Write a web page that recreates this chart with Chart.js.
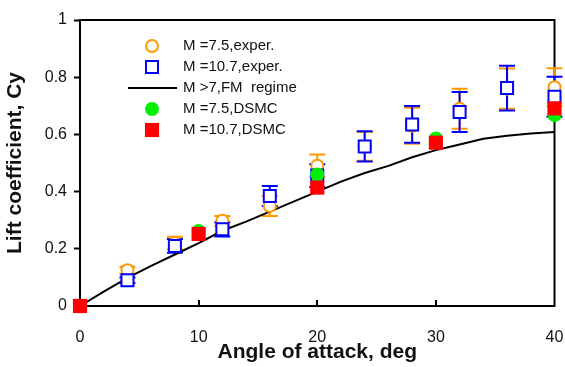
<!DOCTYPE html>
<html>
<head>
<meta charset="utf-8">
<script src="https://cdn.jsdelivr.net/npm/chart.js@4"></script>
<style>
  html, body { margin: 0; padding: 0; background: #fff; }
  #wrap { width: 565px; height: 367px; }
</style>
</head>
<body>
<div id="wrap"><canvas id="chartCanvas" width="565" height="367"></canvas></div>
<script>
// experiment points (same angles for both Mach numbers)
const angles = [0, 4, 8, 12, 16, 20, 24, 28, 32, 36, 40];
const cyExp75 = [0, 0.125, 0.22, 0.298, 0.35, 0.49, 0.558, 0.63, 0.69, 0.76, 0.765];
const errExp75 = [0, 0.012, 0.022, 0.017, 0.035, 0.04, 0.05, 0.063, 0.07, 0.07, 0.066];
const cyExp107 = [0, 0.09, 0.21, 0.268, 0.385, 0.456, 0.558, 0.635, 0.678, 0.762, 0.732];
const errExp107 = [0, 0.01, 0.024, 0.025, 0.035, 0.04, 0.053, 0.064, 0.07, 0.078, 0.07];

// DSMC results
const dsmcAngles = [0, 10, 20, 30, 40];
const cyDsmc75 = [0, 0.262, 0.46, 0.586, 0.668];
const cyDsmc107 = [0, 0.252, 0.414, 0.571, 0.691];

// free molecular curve
const fmAngles = [0, 2, 4, 6, 8, 10, 12, 14, 16, 18, 20, 22, 24, 26, 28, 30, 32, 34, 36, 38, 40];
const cyFm = [0, 0.05, 0.098, 0.14, 0.18, 0.22, 0.263, 0.295, 0.33, 0.365, 0.4, 0.435, 0.465, 0.49, 0.52, 0.545, 0.565, 0.585, 0.595, 0.603, 0.608];

const seriesNames = ['M =7.5,exper.', 'M =10.7,exper.', 'M >7,FM  regime', 'M =7.5,DSMC', 'M =10.7,DSMC'];
const xTickLabels = ['0', '10', '20', '30', '40'];
const yTickLabels = ['0', '0.2', '0.4', '0.6', '0.8', '1'];

const FONT = '"Liberation Sans", Arial, Helvetica, sans-serif';

function toPoints(xs, ys) {
  return xs.map((x, i) => ({ x: x, y: ys[i] }));
}

// frame, inward x ticks and error bars, under the markers
const errorBars = {
  id: 'errorBars',
  beforeDatasetsDraw(chart) {
    const ctx = chart.ctx;
    const xs = chart.scales.x;
    const ys = chart.scales.y;
    const area = chart.chartArea;
    ctx.save();
    ctx.strokeStyle = '#000';
    ctx.lineWidth = 2;
    ctx.strokeRect(area.left, area.top, area.right - area.left, area.bottom - area.top);

    ctx.beginPath();
    xs.ticks.forEach(t => {
      if (t.value <= xs.min || t.value >= xs.max) return;
      const px = Math.round(xs.getPixelForValue(t.value));
      ctx.moveTo(px, area.bottom);
      ctx.lineTo(px, area.bottom - 6);
    });
    ctx.stroke();

    [[0, errExp75], [1, errExp107]].forEach(([di, errs]) => {
      const ds = chart.data.datasets[di];
      ctx.strokeStyle = ds.borderColor;
      ctx.lineWidth = 2;
      ds.data.forEach((p, i) => {
        const e = errs[i];
        if (!e) return;
        const px = xs.getPixelForValue(p.x);
        const top = ys.getPixelForValue(p.y + e);
        const bot = ys.getPixelForValue(p.y - e);
        ctx.beginPath();
        ctx.moveTo(px, top); ctx.lineTo(px, bot);
        ctx.moveTo(px - 8, top); ctx.lineTo(px + 8, top);
        ctx.moveTo(px - 8, bot); ctx.lineTo(px + 8, bot);
        ctx.stroke();
      });
    });
    ctx.restore();
  }
};

// legend inside the plot, top left
const legendBox = {
  id: 'legendBox',
  afterDraw(chart) {
    const ctx = chart.ctx;
    const mx = 152, tx = 183, y0 = 46, dy = 21;
    ctx.save();
    chart.data.datasets.forEach((ds, i) => {
      const y = y0 + i * dy;
      if (ds.showLine) {
        ctx.strokeStyle = ds.borderColor;
        ctx.lineWidth = ds.borderWidth;
        ctx.beginPath();
        ctx.moveTo(128, y); ctx.lineTo(177, y);
        ctx.stroke();
      } else {
        ctx.lineWidth = ds.pointBorderWidth;
        ctx.strokeStyle = ds.borderColor;
        ctx.fillStyle = ds.backgroundColor;
        ctx.beginPath();
        if (ds.pointStyle === 'circle') {
          ctx.arc(mx, y, ds.pointRadius, 0, Math.PI * 2);
        } else {
          const h = ds.pointRadius * Math.SQRT1_2;
          ctx.rect(mx - h, y - h, 2 * h, 2 * h);
        }
        ctx.fill();
        if (ds.pointBorderWidth > 0) ctx.stroke();
      }
      ctx.fillStyle = '#111';
      ctx.font = '15px ' + FONT;
      ctx.textBaseline = 'middle';
      ctx.fillText(ds.label, tx, y);
    });
    ctx.restore();
  }
};

const ctx = document.getElementById('chartCanvas').getContext('2d');

new Chart(ctx, {
  type: 'scatter',
  data: {
    datasets: [
      {
        label: seriesNames[0],
        data: toPoints(angles, cyExp75),
        pointStyle: 'circle',
        pointRadius: 6,
        pointBorderWidth: 2,
        borderColor: '#ff9900',
        backgroundColor: '#ffffff',
        order: 4,
        clip: false
      },
      {
        label: seriesNames[1],
        data: toPoints(angles, cyExp107),
        pointStyle: 'rect',
        pointRadius: 8.5,
        pointBorderWidth: 2,
        borderColor: '#0000ff',
        backgroundColor: '#ffffff',
        order: 3,
        clip: false
      },
      {
        label: seriesNames[2],
        data: toPoints(fmAngles, cyFm),
        showLine: true,
        borderColor: '#000000',
        backgroundColor: '#000000',
        borderWidth: 2,
        pointRadius: 0,
        order: 5,
        clip: false
      },
      {
        label: seriesNames[3],
        data: toPoints(dsmcAngles, cyDsmc75),
        pointStyle: 'circle',
        pointRadius: 7,
        pointBorderWidth: 0,
        borderColor: '#00ee00',
        backgroundColor: '#00ee00',
        order: 1,
        clip: false
      },
      {
        label: seriesNames[4],
        data: toPoints(dsmcAngles, cyDsmc107),
        pointStyle: 'rect',
        pointRadius: 10,
        pointBorderWidth: 0,
        borderColor: '#ff0000',
        backgroundColor: '#ff0000',
        order: 0,
        clip: false
      }
    ]
  },
  options: {
    responsive: false,
    animation: false,
    devicePixelRatio: 1,
    layout: { padding: { top: 20, right: 9, left: 0, bottom: 0 } },
    plugins: {
      legend: { display: false },
      tooltip: { enabled: false }
    },
    scales: {
      x: {
        type: 'linear',
        min: 0,
        max: 40,
        afterFit: s => { s.height = 61; },
        border: { color: '#000', width: 2 },
        // invisible outward ticks only push the labels down
        grid: { drawOnChartArea: false, drawTicks: true, tickLength: 22, tickColor: 'rgba(0,0,0,0)' },
        ticks: {
          stepSize: 10,
          padding: 0,
          color: '#111',
          font: { family: FONT, size: 16 },
          callback: (v, i) => xTickLabels[i]
        },
        title: {
          display: true,
          text: 'Angle of attack, deg',
          color: '#111',
          font: { family: FONT, size: 21, weight: 'bold' },
          padding: { top: 0, bottom: 2 }
        }
      },
      y: {
        type: 'linear',
        min: 0,
        max: 1,
        afterFit: s => { s.width = 80; },
        border: { color: '#000', width: 2 },
        grid: { drawOnChartArea: false, drawTicks: true, tickLength: 6, tickWidth: 2, tickColor: '#000' },
        ticks: {
          stepSize: 0.2,
          padding: 7,
          color: '#111',
          font: { family: FONT, size: 16 },
          callback: (v, i) => yTickLabels[i]
        },
        title: {
          display: true,
          text: 'Lift coefficient, Cy',
          color: '#111',
          font: { family: FONT, size: 21, weight: 'bold' },
          padding: { top: 3, bottom: 0 }
        }
      }
    }
  },
  plugins: [errorBars, legendBox]
});
</script>
</body>
</html>
